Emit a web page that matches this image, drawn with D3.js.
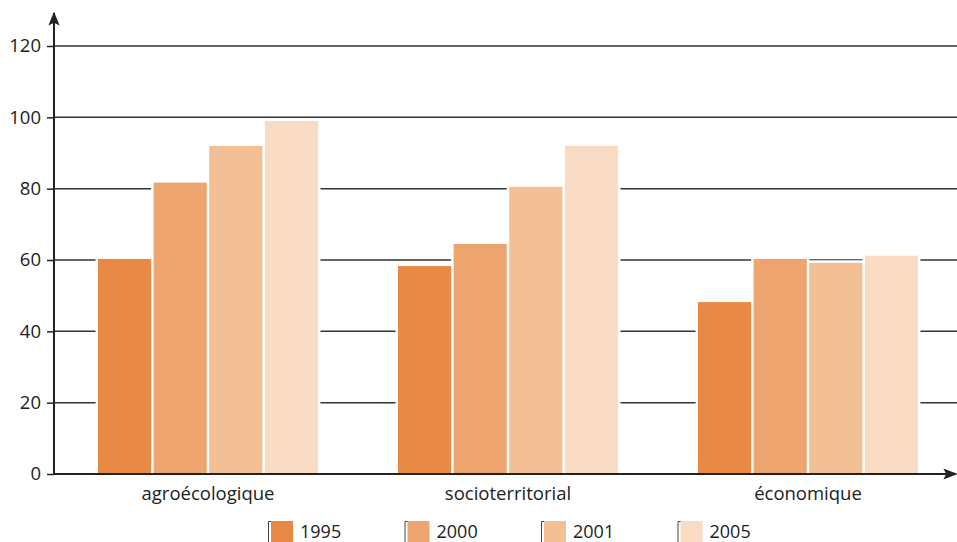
<!DOCTYPE html>
<html lang="fr">
<head>
<meta charset="UTF-8">
<title>Durabilité</title>
<script src="https://d3js.org/d3.v7.min.js"></script>
<style>
  body { margin: 0; background: white; }
  svg text { font-family: "Open Sans", sans-serif; fill: #222; }
</style>
</head>
<body>
<svg id="chart"></svg>
<script>
const categories = ["agroécologique", "socioterritorial", "économique"];
const years = ["1995", "2000", "2001", "2005"];
const values1995 = [60.3, 58.3, 48.2];
const values2000 = [81.7, 64.5, 60.3];
const values2001 = [92.0, 80.5, 59.2];
const values2005 = [99.0, 92.0, 61.2];
const yTicks = [0, 20, 40, 60, 80, 100, 120];
const colors = ["#e88a45", "#eea46e", "#f3bf94", "#f9dbc3"];

const series = [values1995, values2000, values2001, values2005];
const rows = categories.map((c, i) => ({
  cat: c,
  vals: years.map((y, j) => ({ year: y, value: series[j][i], color: colors[j] }))
}));

const w = 957, h = 542;
const marginLeft = 54, axisBottom = 474, plotTop = 46;

const svg = d3.select("#chart").attr("width", w).attr("height", h);

const x0 = d3.scaleBand()
  .domain(categories)
  .range([marginLeft, 962])
  .paddingInner(0.2667)
  .paddingOuter(0.1467);

const x1 = d3.scaleBand()
  .domain(years)
  .range([0, x0.bandwidth()])
  .paddingInner(0.045);

const y = d3.scaleLinear().domain([0, 120]).range([axisBottom, plotTop]);

// grid lines
svg.append("g")
  .selectAll("line")
  .data(yTicks.filter(d => d > 0))
  .enter().append("line")
  .attr("x1", marginLeft).attr("x2", w)
  .attr("y1", d => y(d)).attr("y2", d => y(d))
  .attr("stroke", "#333").attr("stroke-width", 1.5);

// y axis ticks
const yAxis = d3.axisLeft(y).tickValues(yTicks).tickSize(7).tickPadding(6);
const gy = svg.append("g").attr("transform", "translate(" + marginLeft + ",0)").call(yAxis);
gy.select(".domain").remove();
gy.selectAll(".tick line").attr("stroke", "#222").attr("stroke-width", 1.5);
gy.selectAll(".tick text").style("font-size", "18.5px").attr("fill", "#222");

// bars
const groups = svg.append("g").selectAll("g")
  .data(rows).enter().append("g")
  .attr("transform", d => "translate(" + x0(d.cat) + ",0)");

groups.selectAll("rect.bg")
  .data(d => d.vals).enter().append("rect")
  .attr("class", "bg")
  .attr("x", d => x1(d.year) - 2.5)
  .attr("y", d => y(d.value) - 2.5)
  .attr("width", x1.bandwidth() + 5)
  .attr("height", d => axisBottom - y(d.value) + 2.5)
  .attr("fill", "white");

groups.selectAll("rect.bar")
  .data(d => d.vals).enter().append("rect")
  .attr("class", "bar")
  .attr("x", d => x1(d.year))
  .attr("y", d => y(d.value))
  .attr("width", x1.bandwidth())
  .attr("height", d => axisBottom - y(d.value))
  .attr("fill", d => d.color);

// category labels
svg.append("g").selectAll("text")
  .data(categories).enter().append("text")
  .attr("x", d => x0(d) + x0.bandwidth() / 2)
  .attr("y", 500)
  .attr("text-anchor", "middle")
  .style("font-size", "18.5px")
  .text(d => d);

// axes with arrows
svg.append("defs").append("marker")
  .attr("id", "arrow")
  .attr("viewBox", "0 0 10 10")
  .attr("refX", 9).attr("refY", 5)
  .attr("markerWidth", 7).attr("markerHeight", 7)
  .attr("markerUnits", "strokeWidth")
  .attr("orient", "auto")
  .append("path").attr("d", "M0,1 L10,5 L0,9 L2,5 Z").attr("fill", "#222");

svg.append("line")
  .attr("x1", marginLeft).attr("x2", marginLeft)
  .attr("y1", axisBottom + 1).attr("y2", 13)
  .attr("stroke", "#222").attr("stroke-width", 2)
  .attr("marker-end", "url(#arrow)");

svg.append("line")
  .attr("x1", marginLeft - 1).attr("x2", 956)
  .attr("y1", axisBottom).attr("y2", axisBottom)
  .attr("stroke", "#222").attr("stroke-width", 2)
  .attr("marker-end", "url(#arrow)");

// legend
const legend = svg.append("g").selectAll("g")
  .data(years).enter().append("g")
  .attr("transform", (d, i) => "translate(" + (271 + i * 136.5) + ",521)");

legend.append("path")
  .attr("d", "M1,0.5 H-2.5 V22")
  .attr("fill", "none").attr("stroke", "#444").attr("stroke-width", 1);

legend.append("rect")
  .attr("width", 22).attr("height", 22)
  .attr("fill", (d, i) => colors[i]);

legend.append("text")
  .attr("x", 29).attr("y", 17)
  .style("font-size", "18px")
  .text(d => d);
</script>
</body>
</html>
